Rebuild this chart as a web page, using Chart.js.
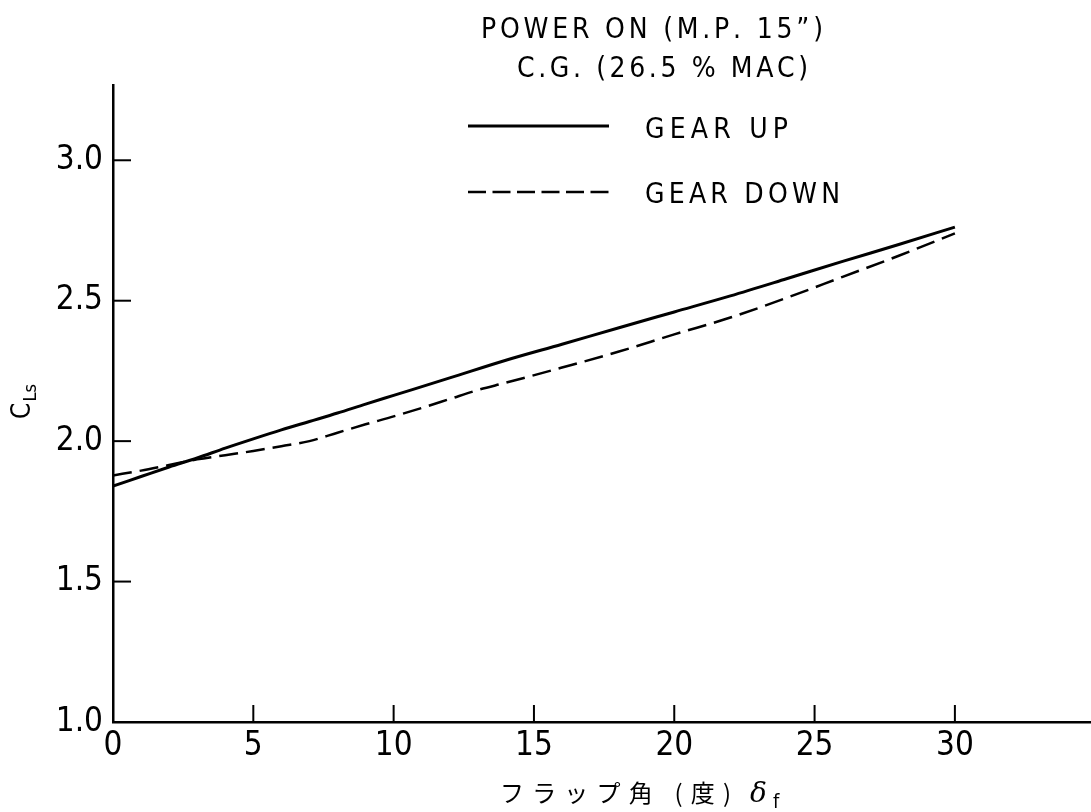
<!DOCTYPE html>
<html><head><meta charset="utf-8">
<script src="https://cdn.jsdelivr.net/npm/chart.js@4.4.1/dist/chart.umd.min.js"></script>
<style>html,body{margin:0;padding:0;background:#fff;}canvas{display:block;}</style>
</head><body>
<canvas id="c" width="1091" height="812"></canvas>
<script>
// ---- data ----
const gearUpFlap = [0,1,2,3,4,5,6,7,8,9,10,12,14,16,18,20,22,24,26,28,30];
const gearUpCL   = [1.84,1.874,1.908,1.94,1.975,2.008,2.04,2.07,2.10,2.132,2.163,2.225,2.288,2.345,2.403,2.46,2.517,2.578,2.64,2.70,2.762];
const gearDownFlap = [0,1,2,3,4,5,6,7,8,9,10,11,12,13,14,16,18,20,22,24,26,28,30];
const gearDownCL   = [1.878,1.895,1.915,1.935,1.95,1.965,1.982,2.0,2.03,2.06,2.088,2.118,2.15,2.182,2.208,2.262,2.318,2.38,2.44,2.51,2.585,2.66,2.74];
const xTickValues = [0,5,10,15,20,25,30];
const yTickValues = [1.0,1.5,2.0,2.5,3.0];
const seriesLabels = ['GEAR UP','GEAR DOWN'];
const headerLines = ['POWER ON (M.P. 15\u201D)','C.G. (26.5 % MAC)'];
const xTitleText = 'フラップ角 (度)';
const xTitleSymbol = 'δ';
const xTitleSub = 'f';
const yTitleText = 'C';
const yTitleSub = 'Ls';

const NARROW = "'Liberation Sans Narrow','DejaVu Sans Condensed','Liberation Sans',sans-serif";
const CJK = "'Noto Sans CJK JP','Noto Sans CJK SC',sans-serif";

function toPoints(xs, ys){ return xs.map((v,i)=>({x:v,y:ys[i]})); }

function drawSpread(ctx, text, x0, x1, baseline){
  const chars = [...text];
  const ws = chars.map(ch => ctx.measureText(ch).width);
  const total = ws.reduce((a,b)=>a+b,0);
  const gap = chars.length > 1 ? (x1 - x0 - total)/(chars.length-1) : 0;
  let x = x0;
  ctx.textAlign = 'left';
  ctx.textBaseline = 'alphabetic';
  chars.forEach((ch,i)=>{ ctx.fillText(ch, x, baseline); x += ws[i] + gap; });
}

const decor = {
  id: 'decor',
  afterDraw(chart){
    const {ctx, chartArea:a, scales:{x, y}} = chart;
    ctx.save();
    ctx.strokeStyle = '#000';
    ctx.fillStyle = '#000';
    // inward tick marks
    ctx.lineWidth = 2;
    ctx.setLineDash([]);
    x.ticks.forEach(t => {
      const px = x.getPixelForValue(t.value);
      ctx.beginPath(); ctx.moveTo(px, a.bottom); ctx.lineTo(px, a.bottom - 17); ctx.stroke();
    });
    y.ticks.forEach(t => {
      const py = y.getPixelForValue(t.value);
      ctx.beginPath(); ctx.moveTo(a.left, py); ctx.lineTo(a.left + 18, py); ctx.stroke();
    });
    // header text
    ctx.font = `28px ${NARROW}`;
    drawSpread(ctx, headerLines[0], 481, 823, 38);
    drawSpread(ctx, headerLines[1], 517, 808, 77);
    // legend
    const ds = chart.data.datasets;
    ctx.lineWidth = 3;
    ctx.setLineDash([]);
    ctx.beginPath(); ctx.moveTo(468, 126); ctx.lineTo(609, 126); ctx.stroke();
    ctx.lineWidth = 2.5;
    ctx.setLineDash([18, 6.5]);
    ctx.beginPath(); ctx.moveTo(468, 192); ctx.lineTo(609, 192); ctx.stroke();
    ctx.setLineDash([]);
    drawSpread(ctx, ds[0].label, 645, 788, 138);
    drawSpread(ctx, ds[1].label, 645, 840, 203);
    // x-axis title
    ctx.font = `24px ${CJK}`;
    drawSpread(ctx, xTitleText, 500, 731, 802);
    ctx.font = `italic 28px 'DejaVu Serif',serif`;
    ctx.textAlign = 'left';
    ctx.fillText(xTitleSymbol, 750, 802);
    ctx.font = `20px ${NARROW}`;
    ctx.fillText(xTitleSub, 773, 808);
    // y-axis title (rotated)
    ctx.save();
    ctx.translate(30, 402);
    ctx.rotate(-Math.PI/2);
    ctx.font = `26px ${NARROW}`;
    const cw = ctx.measureText(yTitleText).width;
    ctx.font = `18px ${NARROW}`;
    const sw = ctx.measureText(yTitleSub).width;
    const start = -(cw + sw)/2;
    ctx.font = `26px ${NARROW}`;
    ctx.textAlign = 'left';
    ctx.textBaseline = 'alphabetic';
    ctx.fillText(yTitleText, start, 0);
    ctx.font = `18px ${NARROW}`;
    ctx.fillText(yTitleSub, start + cw + 1, 6);
    ctx.restore();
    ctx.restore();
  }
};

new Chart(document.getElementById('c'), {
  type: 'line',
  data: {
    datasets: [
      { label: seriesLabels[0], data: toPoints(gearUpFlap, gearUpCL),
        borderColor: '#000', borderWidth: 3, pointRadius: 0, fill: false,
        cubicInterpolationMode: 'monotone' },
      { label: seriesLabels[1], data: toPoints(gearDownFlap, gearDownCL),
        borderColor: '#000', borderWidth: 2.5, borderDash: [19, 8], pointRadius: 0, fill: false,
        cubicInterpolationMode: 'monotone' }
    ]
  },
  options: {
    responsive: false,
    animation: false,
    layout: { padding: { top: 85, right: 0, left: 0, bottom: 0 } },
    plugins: { legend: { display: false }, tooltip: { enabled: false }, title: { display: false } },
    scales: {
      x: {
        type: 'linear', min: 0, max: 34.85,
        afterBuildTicks: s => { s.ticks = xTickValues.map(v => ({ value: v })); },
        afterFit: s => { s.height = 90; },
        grid: { display: false, drawTicks: false },
        border: { display: true, color: '#000', width: 2.5 },
        ticks: { color: '#000', padding: 5, maxRotation: 0, autoSkip: false,
                 font: { family: NARROW, size: 33 }, callback: v => String(v) }
      },
      y: {
        type: 'linear', min: 1.0, max: 3.268,
        afterBuildTicks: s => { s.ticks = yTickValues.map(v => ({ value: v })); },
        afterFit: s => { s.width = 113; },
        grid: { display: false, drawTicks: false },
        border: { display: true, color: '#000', width: 2.5 },
        ticks: { color: '#000', padding: 10, autoSkip: false,
                 font: { family: NARROW, size: 33 }, callback: v => Number(v).toFixed(1) }
      }
    }
  },
  plugins: [decor]
});
</script>
</body></html>
